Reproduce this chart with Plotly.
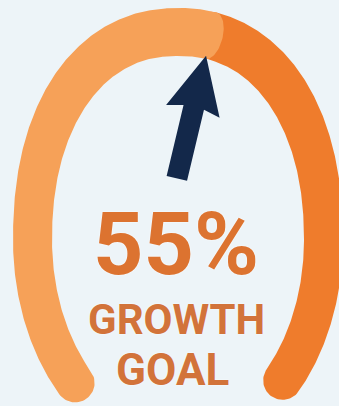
import numpy as np
import plotly.graph_objects as go

# Gauge value and labels
goal_pct = 55
caption_lines = ["GROWTH", "GOAL"]

# Canvas size; the plot's x/y axes are laid out one unit per pixel (y pointing down)
W, H = 339, 406

# Horseshoe centre-line geometry
CX, CY = 178.0, 240.0
RX = 145.5            # horizontal radius
RY_UP, RY_LOW = 208.0, 202.0
N_UP, N_LOW = 2.2, 2.0  # superellipse exponents for upper / lower halves
T_START, T_END = 225.0, -44.0
AIM_FROM = (155.0, 270.0)  # point the arrow is aimed from

LIGHT = "#f6a158"
DARK = "#ef7c2c"
NAVY = "#13284a"
TEXT = "#dc7330"
TEXT2 = "#d2733a"
BG = "#edf4f8"


def half_width(t):
    s = np.clip(np.sin(np.radians(t)), 0, None)
    return 19.5 + 4.5 * s ** 2


def centerline(t):
    r = np.radians(t)
    c, s = np.cos(r), np.sin(r)
    n = np.where(s > 0, N_UP, N_LOW)
    rad = (np.abs(c) ** n + np.abs(s) ** n) ** (-1 / n)
    ry = np.where(s > 0, RY_UP, RY_LOW)
    return CX + RX * rad * c, CY - ry * rad * s


def band(t0, t1, bulge0=1.0, bulge1=1.0, n=300):
    """Outline of the band between parameters t0 > t1, with rounded ends."""
    ts = np.linspace(t0, t1, n)
    px, py = centerline(ts)
    tx, ty = np.gradient(px), np.gradient(py)
    ln = np.hypot(tx, ty)
    tx, ty = tx / ln, ty / ln
    nx, ny = ty, -tx          # outward normal (screen coords)
    hw = half_width(ts)
    ox, oy = px + hw * nx, py + hw * ny
    ix, iy = px - hw * nx, py - hw * ny
    phi = np.linspace(0, np.pi, 40)
    c1x = px[-1] + hw[-1] * (np.cos(phi) * nx[-1] + bulge1 * np.sin(phi) * tx[-1])
    c1y = py[-1] + hw[-1] * (np.cos(phi) * ny[-1] + bulge1 * np.sin(phi) * ty[-1])
    c0x = px[0] + hw[0] * (-np.cos(phi) * nx[0] - bulge0 * np.sin(phi) * tx[0])
    c0y = py[0] + hw[0] * (-np.cos(phi) * ny[0] - bulge0 * np.sin(phi) * ty[0])
    x = np.concatenate([ox, c1x, ix[::-1], c0x])
    y = np.concatenate([oy, c1y, iy[::-1], c0y])
    return x, y


split_t = T_START - goal_pct / 100 * (T_START - T_END)

fig = go.Figure()

# remaining part of the gauge
rx, ry = band(split_t, T_END)
fig.add_trace(go.Scatter(x=rx, y=ry, fill="toself", fillcolor=DARK, mode="lines",
                         line=dict(width=0), hoverinfo="skip"))
# achieved part, drawn on top so its rounded end overlaps
ax_, ay_ = band(T_START, split_t, bulge1=0.5)
fig.add_trace(go.Scatter(x=ax_, y=ay_, fill="toself", fillcolor=LIGHT, mode="lines",
                         line=dict(width=0), hoverinfo="skip"))

# arrow aimed at the split point, tip resting on the inner edge
sx, sy = centerline(np.array([split_t]))
sx, sy = float(sx[0]), float(sy[0])
d = np.array([sx - AIM_FROM[0], sy - AIM_FROM[1]])
u = d / np.linalg.norm(d)
v = np.array([-u[1], u[0]])
tip = np.array([sx, sy]) + u * (-half_width(split_t) + 3)
head_len, head_half, shaft_half, total_len = 57, 27.5, 10.5, 126
pts = np.array([
    tip,
    tip - head_len * u + head_half * v,
    tip - (head_len - 4) * u + shaft_half * v,
    tip - total_len * u + shaft_half * v,
    tip - total_len * u - shaft_half * v,
    tip - (head_len - 4) * u - shaft_half * v,
    tip - head_len * u - head_half * v,
    tip,
])
fig.add_trace(go.Scatter(x=pts[:, 0], y=pts[:, 1], fill="toself", fillcolor=NAVY,
                         mode="lines", line=dict(width=0), hoverinfo="skip"))

FONT = "Roboto, Liberation Sans, sans-serif"
halo = "0px 0px 2px #ffffff"


def label(text, px, py, size, color):
    fig.add_annotation(x=px, y=py, text=f"<b>{text}</b>", showarrow=False,
                       xanchor="center", yanchor="middle",
                       font=dict(family=FONT, size=size, color=color, shadow=halo))


label(f"{goal_pct}%", 176, 243, 88, TEXT)
label(caption_lines[0], 176, 319, 42, TEXT2)
label(caption_lines[1], 172, 370, 44, TEXT2)

fig.update_layout(
    width=W, height=H, margin=dict(l=0, r=0, t=0, b=0),
    paper_bgcolor=BG, plot_bgcolor=BG, showlegend=False,
    xaxis=dict(range=[0, W], visible=False, fixedrange=True),
    yaxis=dict(range=[H, 0], visible=False, fixedrange=True),
)

fig.write_html("out.html")
